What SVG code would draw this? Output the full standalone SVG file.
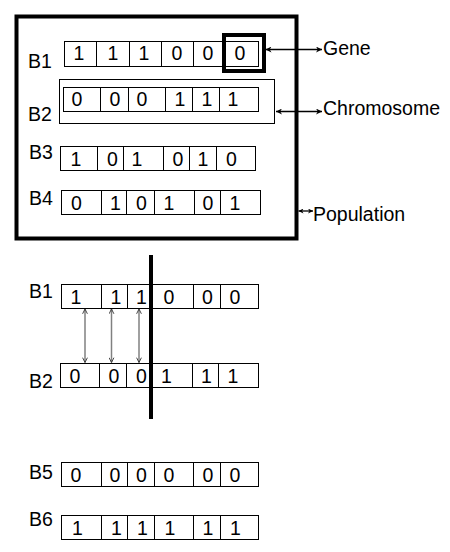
<svg xmlns="http://www.w3.org/2000/svg" width="450" height="552" viewBox="0 0 450 552">
<defs>
<marker id="ah" viewBox="0 0 10 10" refX="10" refY="5" markerWidth="8" markerHeight="6" markerUnits="userSpaceOnUse" orient="auto-start-reverse">
<path d="M0,0 L10,5 L0,10 L3,5 Z" fill="#000"/>
</marker>
<marker id="ahs" viewBox="0 0 10 10" refX="10" refY="5" markerWidth="6" markerHeight="5" markerUnits="userSpaceOnUse" orient="auto-start-reverse">
<path d="M0,0 L10,5 L0,10 L3,5 Z" fill="#000"/>
</marker>
<marker id="av" viewBox="0 0 10 10" refX="9" refY="5" markerWidth="7" markerHeight="6" markerUnits="userSpaceOnUse" orient="auto-start-reverse">
<path d="M1,1 L9,5 L1,9" fill="none" stroke="#333" stroke-width="1.5"/>
</marker>
</defs>
<style>
text{font-family:"Liberation Sans",Arial,sans-serif;font-size:19.5px;fill:#000}
.d{text-anchor:middle}
.cell{fill:#fff;stroke:#000;stroke-width:1}
.div{stroke:#000;stroke-width:1}
.thick{fill:none;stroke:#000;stroke-width:4}
.conn{stroke:#000;stroke-width:1.3;fill:none}
.gconn{stroke:#808080;stroke-width:1.5;fill:none}
</style>
<rect width="450" height="552" fill="#fff"/>

<g id="population-box">
<rect x="16.5" y="16.5" width="280" height="222" class="thick"/>
</g>

<g id="chromosome-box">
<rect x="59.5" y="79.5" width="215" height="44" fill="none" stroke="#000" stroke-width="1"/>
</g>

<g id="row-B1">
<text x="28" y="68">B1</text>
<rect x="64.5" y="41.5" width="194" height="25" class="cell"/>
<path d="M96.5,41.5V66.5M129.5,41.5V66.5M161.5,41.5V66.5M193.5,41.5V66.5M225.5,41.5V66.5" class="div"/>
<text class="d" y="60"><tspan x="79">1</tspan><tspan x="113">1</tspan><tspan x="144">1</tspan><tspan x="177">0</tspan><tspan x="208">0</tspan><tspan x="240">0</tspan></text>
</g>

<g id="gene-box">
<rect x="224" y="35" width="40" height="36" class="thick"/>
</g>

<g id="row-B2">
<text x="28" y="121">B2</text>
<rect x="63.5" y="87.5" width="195" height="24" class="cell"/>
<path d="M100.5,87.5V111.5M128.5,87.5V111.5M165.5,87.5V111.5M192.5,87.5V111.5M219.5,87.5V111.5" class="div"/>
<text class="d" y="106"><tspan x="77">0</tspan><tspan x="115">0</tspan><tspan x="142">0</tspan><tspan x="180">1</tspan><tspan x="207">1</tspan><tspan x="233">1</tspan></text>
</g>

<g id="row-B3">
<text x="29" y="159">B3</text>
<rect x="60.5" y="146.5" width="195" height="24" class="cell"/>
<path d="M97.5,146.5V170.5M123.5,146.5V170.5M163.5,146.5V170.5M189.5,146.5V170.5M216.5,146.5V170.5" class="div"/>
<text class="d" y="166"><tspan x="76">1</tspan><tspan x="112.5">0</tspan><tspan x="137">1</tspan><tspan x="178">0</tspan><tspan x="203">1</tspan><tspan x="231.5">0</tspan></text>
</g>

<g id="row-B4">
<text x="29" y="205">B4</text>
<rect x="61.5" y="190.5" width="199" height="24" class="cell"/>
<path d="M101.5,190.5V214.5M126.5,190.5V214.5M154.5,190.5V214.5M194.5,190.5V214.5M220.5,190.5V214.5" class="div"/>
<text class="d" y="210"><tspan x="76.5">0</tspan><tspan x="115.5">1</tspan><tspan x="141.5">0</tspan><tspan x="169">1</tspan><tspan x="208">0</tspan><tspan x="235">1</tspan></text>
</g>

<g id="label-gene"><text x="323" y="55">Gene</text></g>
<g id="label-chromosome"><text x="323" y="115">Chromosome</text></g>
<g id="label-population"><text x="313" y="221">Population</text></g>

<g id="row-B1-cross">
<text x="29" y="298">B1</text>
<rect x="61.5" y="284.5" width="197" height="24" class="cell"/>
<path d="M101.5,284.5V308.5M127.5,284.5V308.5M193.5,284.5V308.5M220.5,284.5V308.5" class="div"/>
<text class="d" y="304"><tspan x="76">1</tspan><tspan x="116">1</tspan><tspan x="141.5">1</tspan><tspan x="169">0</tspan><tspan x="207.5">0</tspan><tspan x="235">0</tspan></text>
</g>

<g id="row-B2-cross">
<text x="29" y="388">B2</text>
<rect x="60.5" y="363.5" width="198" height="24" class="cell"/>
<path d="M99.5,363.5V387.5M126.5,363.5V387.5M192.5,363.5V387.5M218.5,363.5V387.5" class="div"/>
<text class="d" y="383"><tspan x="75">0</tspan><tspan x="114">0</tspan><tspan x="141.5">0</tspan><tspan x="166.5">1</tspan><tspan x="206.5">1</tspan><tspan x="233">1</tspan></text>
</g>

<g id="crossover-line">
<line x1="151" y1="255" x2="151" y2="419" stroke="#000" stroke-width="4"/>
</g>

<g id="row-B5">
<text x="29" y="479">B5</text>
<rect x="61.5" y="462.5" width="197" height="24" class="cell"/>
<path d="M101.5,462.5V486.5M127.5,462.5V486.5M154.5,462.5V486.5M193.5,462.5V486.5M220.5,462.5V486.5" class="div"/>
<text class="d" y="482"><tspan x="76">0</tspan><tspan x="115">0</tspan><tspan x="141.5">0</tspan><tspan x="169">0</tspan><tspan x="208">0</tspan><tspan x="235">0</tspan></text>
</g>

<g id="row-B6">
<text x="29" y="526">B6</text>
<rect x="61.5" y="515.5" width="197" height="24" class="cell"/>
<path d="M101.5,515.5V539.5M127.5,515.5V539.5M154.5,515.5V539.5M193.5,515.5V539.5M220.5,515.5V539.5" class="div"/>
<text class="d" y="535"><tspan x="77.5">1</tspan><tspan x="116.5">1</tspan><tspan x="142.5">1</tspan><tspan x="170">1</tspan><tspan x="208">1</tspan><tspan x="235.5">1</tspan></text>
</g>

<g id="connectors">
<line x1="265.5" y1="49.5" x2="322" y2="49.5" class="conn" marker-start="url(#ah)" marker-end="url(#ah)"/>
<line x1="276" y1="111.5" x2="322" y2="111.5" class="conn" marker-start="url(#ah)" marker-end="url(#ah)"/>
<line x1="298.5" y1="211" x2="313" y2="211" class="conn" marker-start="url(#ahs)" marker-end="url(#ahs)"/>
<line x1="85" y1="309" x2="85" y2="362.5" class="gconn" marker-start="url(#av)" marker-end="url(#av)"/>
<line x1="111.5" y1="309" x2="111.5" y2="362.5" class="gconn" marker-start="url(#av)" marker-end="url(#av)"/>
<line x1="139" y1="309" x2="139" y2="362.5" class="gconn" marker-start="url(#av)" marker-end="url(#av)"/>
</g>
</svg>
